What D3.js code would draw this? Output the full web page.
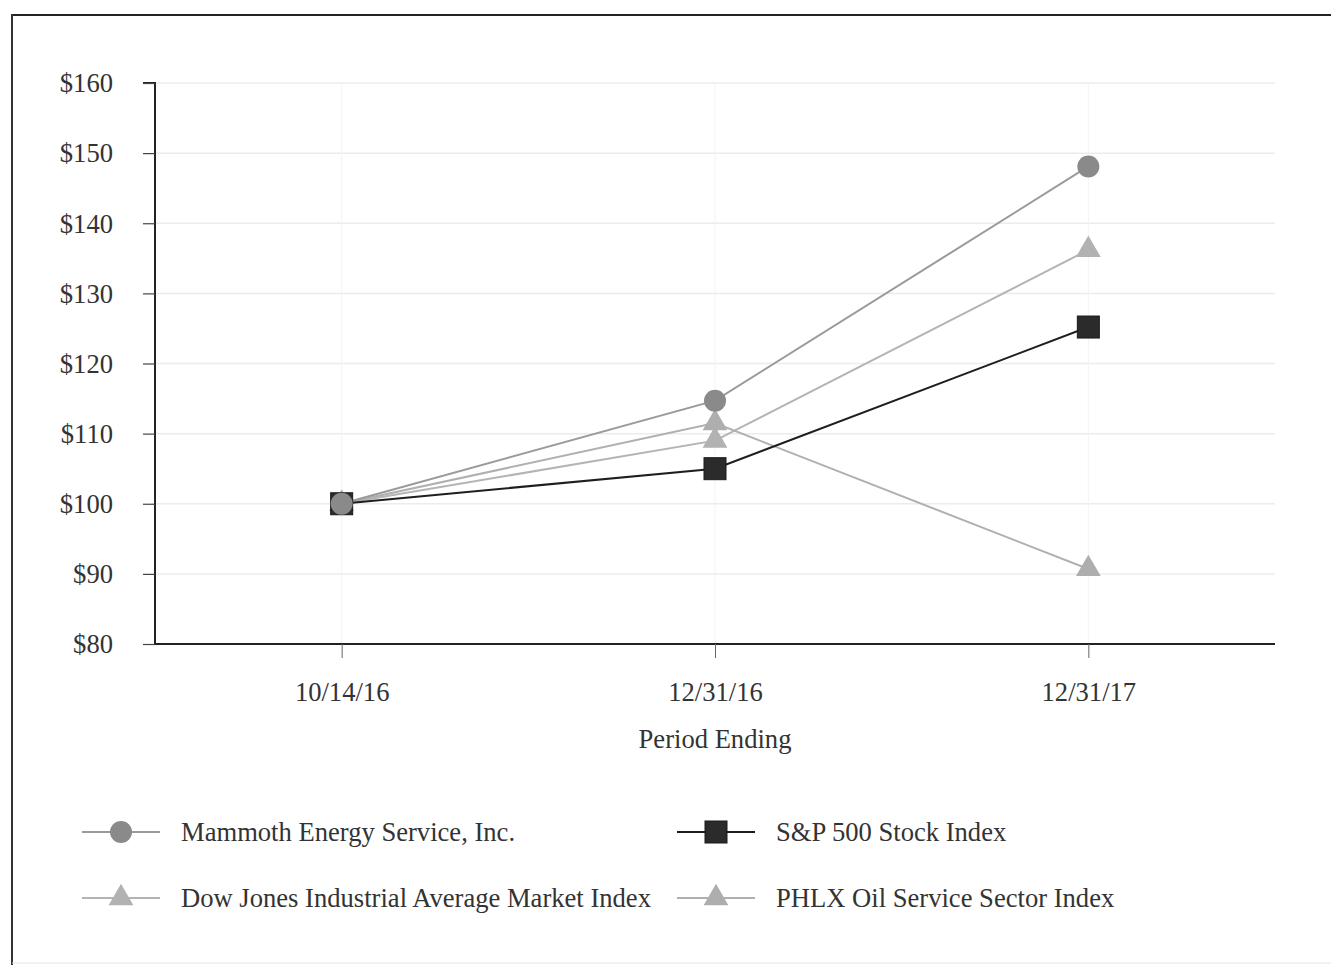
<!DOCTYPE html>
<html><head><meta charset="utf-8">
<script src="https://cdn.jsdelivr.net/npm/d3@7"></script>
<style>body{margin:0;background:#fff}svg{display:block}text{font-family:"Liberation Serif","DejaVu Serif",serif;fill:#333}</style>
</head><body><svg id="c" width="1331" height="967"></svg>
<script>
const periods = ["10/14/16", "12/31/16", "12/31/17"];
const mammoth = [100, 114.7, 148.1];
const sp500 = [100, 105.0, 125.2];
const dowJones = [100, 109.0, 136.2];
const phlx = [100, 111.5, 90.7];
const yTicks = [80, 90, 100, 110, 120, 130, 140, 150, 160];
const seriesNames = ["Mammoth Energy Service, Inc.", "S&P 500 Stock Index", "Dow Jones Industrial Average Market Index", "PHLX Oil Service Sector Index"];

const FS = 26.6;
const series = {
  mam: {name: seriesNames[0], values: mammoth, shape: "circle", color: "#8a8a8a", line: "#9a9a9a"},
  sp: {name: seriesNames[1], values: sp500, shape: "square", color: "#2b2b2b", line: "#1e1e1e"},
  dow: {name: seriesNames[2], values: dowJones, shape: "triangle", color: "#b2b2b2", line: "#b4b4b4"},
  phlx: {name: seriesNames[3], values: phlx, shape: "triangle", color: "#aeaeae", line: "#b0b0b0"}
};
const lineOrder = [series.dow, series.phlx, series.mam, series.sp];
const markerOrder = [series.dow, series.phlx, series.sp, series.mam];

const svg = d3.select("#c");
// frame
svg.append("line").attr("x1",11).attr("x2",1331).attr("y1",15).attr("y2",15).attr("stroke","#222").attr("stroke-width",2);
svg.append("line").attr("x1",12).attr("x2",12).attr("y1",14).attr("y2",965).attr("stroke","#333").attr("stroke-width",2);
svg.append("line").attr("x1",12).attr("x2",1331).attr("y1",963).attr("y2",963).attr("stroke","#e4e4e4").attr("stroke-width",1);

const L = 155, R = 1275, T = 83, B = 644;
const x = d3.scalePoint().domain(periods).range([L, R]).padding(0.5);
const y = d3.scaleLinear().domain([80, 160]).range([B, T]);

// gridlines
svg.append("g").selectAll("line").data(yTicks.filter(d => d > 80)).join("line")
  .attr("x1", L).attr("x2", R).attr("y1", d => y(d)).attr("y2", d => y(d))
  .attr("stroke", "#ececec").attr("stroke-width", 1.5);
svg.append("g").selectAll("line").data(periods).join("line")
  .attr("x1", d => x(d)).attr("x2", d => x(d)).attr("y1", T).attr("y2", B)
  .attr("stroke", "#f3f3f3").attr("stroke-width", 1);

// axes
const yAxis = d3.axisLeft(y).tickValues(yTicks).tickFormat(d => "$" + d).tickSize(12).tickPadding(30);
const gy = svg.append("g").attr("transform", `translate(${L},0)`).call(yAxis);
gy.select(".domain").attr("stroke", "#222").attr("stroke-width", 2).attr("d", `M-12,${T}H0V${B}`);
gy.selectAll(".tick line").attr("stroke", "#444").attr("stroke-width", 1.2);
gy.selectAll(".tick text").attr("font-size", FS).attr("fill", "#333").attr("font-family", "Liberation Serif").attr("dy", "0.33em");

const xAxis = d3.axisBottom(x).tickSize(14).tickPadding(24);
const gx = svg.append("g").attr("transform", `translate(0,${B})`).call(xAxis);
gx.select(".domain").attr("stroke", "#222").attr("stroke-width", 2).attr("d", `M${L},0H${R}`);
gx.selectAll(".tick line").attr("stroke", "#666").attr("stroke-width", 1);
gx.selectAll(".tick text").attr("font-size", FS).attr("fill", "#333").attr("font-family", "Liberation Serif");

svg.append("text").attr("x", x(periods[1])).attr("y", 739).attr("dy", "0.35em").attr("text-anchor", "middle")
  .attr("font-size", FS).text("Period Ending");

function marker(g, shape, color, size) {
  if (shape === "circle") g.append("circle").attr("r", size * 0.5).attr("fill", color);
  else if (shape === "square") g.append("rect").attr("x", -size/2).attr("y", -size/2).attr("width", size).attr("height", size).attr("fill", color).attr("stroke", "#1a1a1a").attr("stroke-width", 1);
  else g.append("path").attr("d", d3.symbol(d3.symbolTriangle, size * size * 0.55)()).attr("fill", color);
}

const line = d3.line().x((d, i) => x(periods[i])).y(d => y(d));
lineOrder.forEach(s => {
  svg.append("path").datum(s.values).attr("d", line).attr("fill", "none")
    .attr("stroke", s.line).attr("stroke-width", 2);
});
markerOrder.forEach(s => {
  s.values.forEach((v, i) => {
    const g = svg.append("g").attr("transform", `translate(${x(periods[i])},${y(v)})`);
    marker(g, s.shape, s.color, 22);
  });
});

// legend
const legendItems = [
  {s: series.mam, col: 0, row: 0},
  {s: series.sp, col: 1, row: 0},
  {s: series.dow, col: 0, row: 1},
  {s: series.phlx, col: 1, row: 1}
];
legendItems.forEach(it => {
  const lx = it.col === 0 ? 82 : 677;
  const ly = it.row === 0 ? 832 : 898;
  const g = svg.append("g");
  g.append("line").attr("x1", lx).attr("x2", lx + 78).attr("y1", ly).attr("y2", ly)
    .attr("stroke", it.s.line).attr("stroke-width", 2);
  const m = g.append("g").attr("transform", `translate(${lx + 39},${ly})`);
  marker(m, it.s.shape, it.s.color, 22);
  g.append("text").attr("x", lx + 99).attr("y", ly).attr("dy", "0.35em").attr("font-size", FS).text(it.s.name);
});
</script></body></html>
